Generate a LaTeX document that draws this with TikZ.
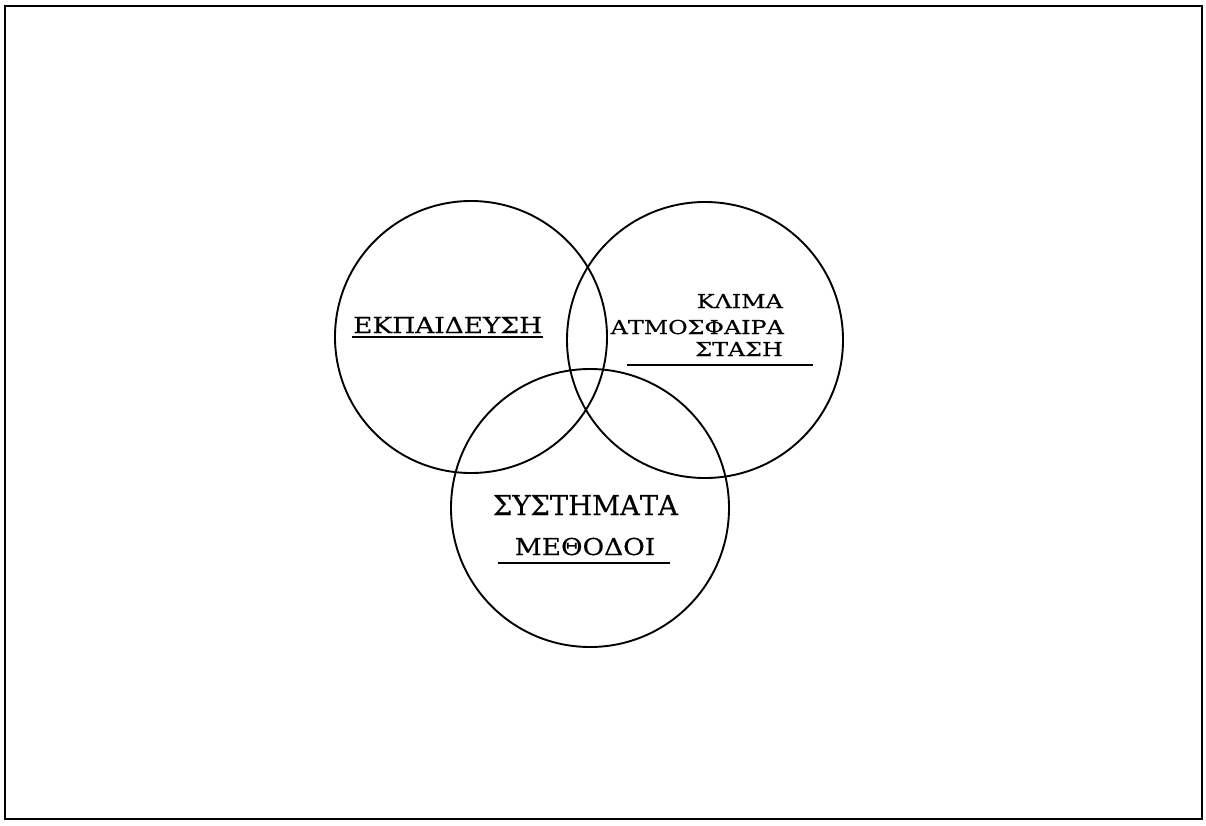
\documentclass[tikz,border=0pt]{standalone}
\usepackage{fontspec}
\setmainfont{DejaVu Serif}
\usetikzlibrary{positioning}
\newfontfamily\grkwide[FakeStretch=1.2, FakeBold=0.4]{DejaVu Serif}
\newfontfamily\grkmid[FakeStretch=1.24, FakeBold=0.4]{DejaVu Serif}
\newfontfamily\grknarrow[FakeStretch=1.13, FakeBold=0.4]{DejaVu Serif}
\newfontfamily\grkplain[FakeBold=0.4]{DejaVu Serif}

\begin{document}
\begin{tikzpicture}[x=1pt, y=-1pt,
    venn/.style={draw=black, line width=1.9pt},
    label/.style={inner sep=0pt, text=black},
    uline/.style={draw=black, line width=1.8pt}]
  \useasboundingbox (0,0) rectangle (1206,825);
  \draw[line width=2.8pt] (5,6) rectangle (1202,819);
  % three circles
  \draw[venn] (471,337) circle[radius=136pt];
  \draw[venn] (705,340) circle[radius=138pt];
  \draw[venn] (590,508) circle[radius=139pt];
  % left circle
  \node[label, anchor=base west, font=\grkwide\fontsize{22}{26}\selectfont] (edu) at (353,333) {ΕΚΠΑΙΔΕΥΣΗ};
  \draw[uline] (352,337) -- (543,337);
  % right circle
  \node[label, anchor=base east, font=\grkmid\fontsize{19.2}{24}\selectfont] (klima) at (783,308) {ΚΛΙΜΑ};
  \node[label, anchor=base east, font=\grkmid\fontsize{19.2}{24}\selectfont] (atmo) at (784,334) {ΑΤΜΟΣΦΑΙΡΑ};
  \node[label, anchor=base east, font=\grkmid\fontsize{19.2}{24}\selectfont] (stasi) at (783,356) {ΣΤΑΣΗ};
  \draw[uline] (627,365) -- (813,365);
  % bottom circle
  \node[label, anchor=base, font=\grkplain\fontsize{27.4}{32}\selectfont] (syst) at (585.5,515) {ΣΥΣΤΗΜΑΤΑ};
  \node[label, anchor=base, font=\grknarrow\fontsize{23.3}{28}\selectfont] (meth) at (585,555) {ΜΕΘΟΔΟΙ};
  \draw[uline] (498,563) -- (670,563);
\end{tikzpicture}
\end{document}
